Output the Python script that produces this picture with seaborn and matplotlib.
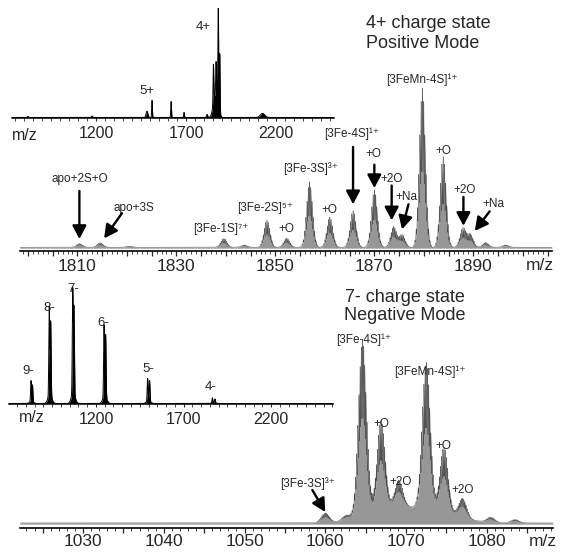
import numpy as np
import pandas as pd
import matplotlib
matplotlib.use("Agg")
import matplotlib.pyplot as plt
from matplotlib.ticker import MultipleLocator, FixedLocator, FuncFormatter
import seaborn as sns

sns.set_style("white")
plt.rcParams["font.family"] = ["Liberation Sans", "DejaVu Sans"]

W, H = 562, 552

# ---------------- data ----------------
# Positive mode, full m/z scan (inset): peak centre, relative height, width
pos_full_mz = [822, 1178, 1483, 1511, 1617, 1689, 1817, 1852, 1858, 1867, 1872, 1879, 1887, 2125]
pos_full_int = [1.0, 1.5, 6, 16.5, 15.5, 5, 3, 37, 15, 31, 15, 100, 57, 4]
pos_full_wid = [3, 3, 5, 2, 2, 2, 3, 2, 10, 2, 10, 2, 2, 12]

# Negative mode, full m/z scan (inset): charge-state doublets
neg_full_mz = [829, 837, 933, 941, 1067, 1074, 1246, 1255, 1495, 1506, 1865, 1880]
neg_full_int = [20, 16, 85, 71, 100, 83, 69, 60, 22, 20, 5, 4]
neg_full_wid = [2.5] * 12

# Positive mode, 4+ charge state expanded
pos_mz = [1810.4, 1814.6, 1820.5, 1839.6, 1843.7, 1848.3, 1852.3, 1856.9, 1861.0,
          1865.7, 1870.0, 1873.9, 1875.6, 1879.7, 1883.9, 1887.9, 1889.4, 1892.5, 1896.5]
pos_int = [2.3, 2.8, 0.8, 5.6, 1.5, 17, 5.8, 41, 19,
           23, 36, 13, 8, 100, 57, 12, 8, 3, 1.5]

# Negative mode, 7- charge state expanded
neg_mz = [1060.0, 1062.6, 1064.6, 1066.9, 1069.1, 1072.5, 1074.7, 1077.0, 1080.5, 1083.5]
neg_int = [5.5, 3, 100, 50, 15, 83, 37, 11, 3, 2]
neg_bg_mz = [1068.0, 1073.5]
neg_bg_int = [8, 6]
neg_bg_wid = [3.0, 3.0]

pos_ticks = [1810, 1830, 1850, 1870, 1890]
neg_ticks = [1030, 1040, 1050, 1060, 1070, 1080]
full_ticks = [1200, 1700, 2200]


# ---------------- helpers ----------------
def px_axes(fig, left, top, right, bottom):
    ax = fig.add_axes([left / W, 1 - bottom / H, (right - left) / W, (bottom - top) / H])
    ax.patch.set_alpha(0)
    for s in ("top", "right", "left"):
        ax.spines[s].set_visible(False)
    ax.spines["bottom"].set_color("black")
    ax.set_yticks([])
    return ax


def fig_text(fig, x, y, s, size, **kw):
    fig.text(x / W, 1 - y / H, s, fontsize=size, ha="center", va="center", **kw)


def stick_profile(grid, centers, heights, widths, skirt=0.0):
    y = np.zeros_like(grid)
    for c, h, w in zip(centers, heights, widths):
        y += h * np.exp(-0.5 * ((grid - c) / w) ** 2)
        if skirt:
            y += skirt * h * np.exp(-0.5 * ((grid - c) / (4 * w)) ** 2)
    return y


def isotope_profile(grid, centers, heights, env_sigma, spacing, line_sigma):
    env = np.zeros_like(grid)
    comb = np.zeros_like(grid)
    n = int(3.2 * env_sigma / spacing)
    for c, h in zip(centers, heights):
        env += h * np.exp(-0.5 * ((grid - c) / env_sigma) ** 2)
        for k in range(-n, n + 1):
            p = c + k * spacing
            wgt = np.exp(-0.5 * ((p - c) / env_sigma) ** 2)
            comb += h * wgt * np.exp(-0.5 * ((grid - p) / line_sigma) ** 2)
    return env, comb


def arrow(ax, tail, tip):
    ax.annotate("", xy=tip, xytext=tail,
                arrowprops=dict(arrowstyle="-|>,head_length=0.8,head_width=0.42",
                                mutation_scale=10, lw=1.7, color="black",
                                shrinkA=0, shrinkB=0),
                annotation_clip=False)


def label(ax, s, x, y, size=8.5):
    ax.text(x, y, s, fontsize=size, ha="center", va="center", clip_on=False)


def draw_spectrum(ax, grid, env, comb, offset):
    ax.fill_between(grid, 0, env * 0.85 + offset, color="#c4c4c4", lw=0)
    ax.fill_between(grid, 0, comb + offset, color="#979797", lw=0)
    sns.lineplot(x=grid, y=comb + offset, ax=ax, color="#454545", lw=0.3,
                 estimator=None, sort=False)


def draw_full(ax, grid, y):
    ax.fill_between(grid, 0, y, color="black", lw=0)
    sns.lineplot(x=grid, y=y, ax=ax, color="black", lw=0.7, estimator=None, sort=False)


fig = plt.figure(figsize=(W / 100, H / 100), dpi=100)

# ---------------- upper expanded spectrum ----------------
ax1 = px_axes(fig, 20, 60, 552, 251)
g1 = np.arange(1798.4, 1905.9, 0.01)
env1, comb1 = isotope_profile(g1, pos_mz, pos_int, 0.6, 0.25, 0.075)
draw_spectrum(ax1, g1, env1, comb1, 0.5)
ax1.set_xlim(1798.4, 1905.9)
ax1.set_ylim(-1.9, 119)
ax1.spines["bottom"].set_linewidth(1.2)
ax1.xaxis.set_major_locator(FixedLocator(np.arange(1800, 1906, 5)))
ax1.xaxis.set_minor_locator(MultipleLocator(1))
ax1.xaxis.set_major_formatter(FuncFormatter(lambda v, p: f"{v:.0f}" if round(v) in pos_ticks else ""))
ax1.tick_params(axis="x", which="major", length=3.5, width=0.9, labelsize=12.5, pad=2, bottom=True)
ax1.tick_params(axis="x", which="minor", length=2, width=0.6, bottom=True)
ax1.set_xlabel("")
ax1.set_ylabel("")
fig_text(fig, 540, 265, "m/z", 12.5)

label(ax1, "[3FeMn-4S]¹⁺", 1879.6, 106.3)
label(ax1, "[3Fe-4S]¹⁺", 1865.5, 72.2)
arrow(ax1, (1865.7, 64), (1865.7, 27.7))
label(ax1, "+O", 1869.8, 59.5)
arrow(ax1, (1870.0, 52.7), (1870.0, 37.9))
label(ax1, "+2O", 1873.4, 43.5)
arrow(ax1, (1873.5, 39.5), (1873.5, 17.5))
label(ax1, "+Na", 1876.4, 32.2)
arrow(ax1, (1876.9, 27.7), (1875.6, 11.8))
label(ax1, "[3Fe-3S]³⁺", 1857.1, 50.4)
label(ax1, "+O", 1860.9, 24.3)
label(ax1, "[3Fe-2S]⁵⁺", 1848.0, 25.4)
label(ax1, "+O", 1852.3, 12.3)
label(ax1, "[3Fe-1S]⁷⁺", 1839.0, 12.3)
label(ax1, "apo+2S+O", 1810.4, 43.6)
arrow(ax1, (1810.4, 36.1), (1810.4, 5.7))
label(ax1, "apo+3S", 1821.5, 25.4)
arrow(ax1, (1819.0, 22.0), (1815.4, 6.1))
label(ax1, "+O", 1883.9, 61.3)
label(ax1, "+2O", 1888.3, 36.5)
arrow(ax1, (1888.0, 32.3), (1888.0, 14.0))
label(ax1, "+Na", 1894.0, 28.0)
arrow(ax1, (1893.3, 23.2), (1890.3, 10.8))

fig_text(fig, 428, 23, "4+ charge state", 13)
fig_text(fig, 423, 43, "Positive Mode", 13)

# ---------------- upper full-scan inset ----------------
ax2 = px_axes(fig, 12, 8, 334, 118)
g2 = np.arange(733, 2522, 0.5)
y2 = stick_profile(g2, pos_full_mz, pos_full_int, pos_full_wid)
draw_full(ax2, g2, y2)
ax2.set_xlim(733, 2522)
ax2.set_ylim(-0.5, 106.3)
ax2.spines["bottom"].set_linewidth(1.1)
ax2.xaxis.set_major_locator(FixedLocator(full_ticks))
ax2.xaxis.set_minor_locator(MultipleLocator(50))
ax2.tick_params(axis="x", which="major", length=2.5, width=0.8, labelsize=11.5, pad=3, bottom=True)
ax2.tick_params(axis="x", which="minor", length=1.8, width=0.6, bottom=True)
ax2.set_xlabel("")
ax2.set_ylabel("")
fig_text(fig, 25, 135, "m/z", 11.5)
label(ax2, "5+", 1483, 26.2, 9.5)
label(ax2, "4+", 1794, 88.3, 9.5)

# ---------------- lower expanded spectrum ----------------
ax3 = px_axes(fig, 20, 328, 553, 528)
g3 = np.arange(1022.2, 1088.2, 0.005)
env3, comb3 = isotope_profile(g3, neg_mz, neg_int, 0.5, 1 / 7, 0.045)
bg3 = stick_profile(g3, neg_bg_mz, neg_bg_int, neg_bg_wid)
draw_spectrum(ax3, g3, env3 + bg3, comb3 + bg3, 0.6)
ax3.set_xlim(1022.2, 1088.2)
ax3.set_ylim(-2.3, 112.6)
ax3.spines["bottom"].set_linewidth(1.2)
ax3.xaxis.set_major_locator(FixedLocator(np.arange(1025, 1090, 5)))
ax3.xaxis.set_minor_locator(MultipleLocator(1))
ax3.xaxis.set_major_formatter(FuncFormatter(lambda v, p: f"{v:.0f}" if round(v) in neg_ticks else ""))
ax3.tick_params(axis="x", which="major", length=3.5, width=0.9, labelsize=12.5, pad=1, bottom=True)
ax3.tick_params(axis="x", which="minor", length=2, width=0.6, bottom=True)
ax3.set_xlabel("")
ax3.set_ylabel("")
fig_text(fig, 543, 541, "m/z", 12.5)

label(ax3, "[3Fe-4S]¹⁺", 1064.7, 105.7)
label(ax3, "[3FeMn-4S]¹⁺", 1073.0, 87.4)
label(ax3, "+O", 1066.9, 57.5)
label(ax3, "+O", 1074.6, 44.8)
label(ax3, "+2O", 1069.3, 24.1)
label(ax3, "+2O", 1077.0, 19.5)
label(ax3, "[3Fe-3S]³⁺", 1057.8, 23.0)
arrow(ax3, (1058.4, 19.5), (1060.0, 6.9))

fig_text(fig, 405, 297, "7- charge state", 13)
fig_text(fig, 405, 315, "Negative Mode", 13)

# ---------------- lower full-scan inset ----------------
ax4 = px_axes(fig, 9, 282, 333, 404)
g4 = np.arange(703, 2554, 0.5)
y4 = stick_profile(g4, neg_full_mz, neg_full_int, neg_full_wid, skirt=0.06)
draw_full(ax4, g4, y4)
ax4.set_xlim(703, 2554)
ax4.set_ylim(-0.5, 116.8)
ax4.spines["bottom"].set_linewidth(1.1)
ax4.xaxis.set_major_locator(FixedLocator(full_ticks))
ax4.xaxis.set_minor_locator(MultipleLocator(50))
ax4.tick_params(axis="x", which="major", length=2.5, width=0.8, labelsize=11.5, pad=3, bottom=True)
ax4.tick_params(axis="x", which="minor", length=1.8, width=0.6, bottom=True)
ax4.set_xlabel("")
ax4.set_ylabel("")
fig_text(fig, 32, 417, "m/z", 11.5)
for s, x, y in [("9-", 811, 30.8), ("8-", 931, 92), ("7-", 1069, 110),
                ("6-", 1240, 77), ("5-", 1497, 32.7), ("4-", 1857, 15.4)]:
    label(ax4, s, x, y, 9.5)

fig.savefig("out.png", dpi=100)
